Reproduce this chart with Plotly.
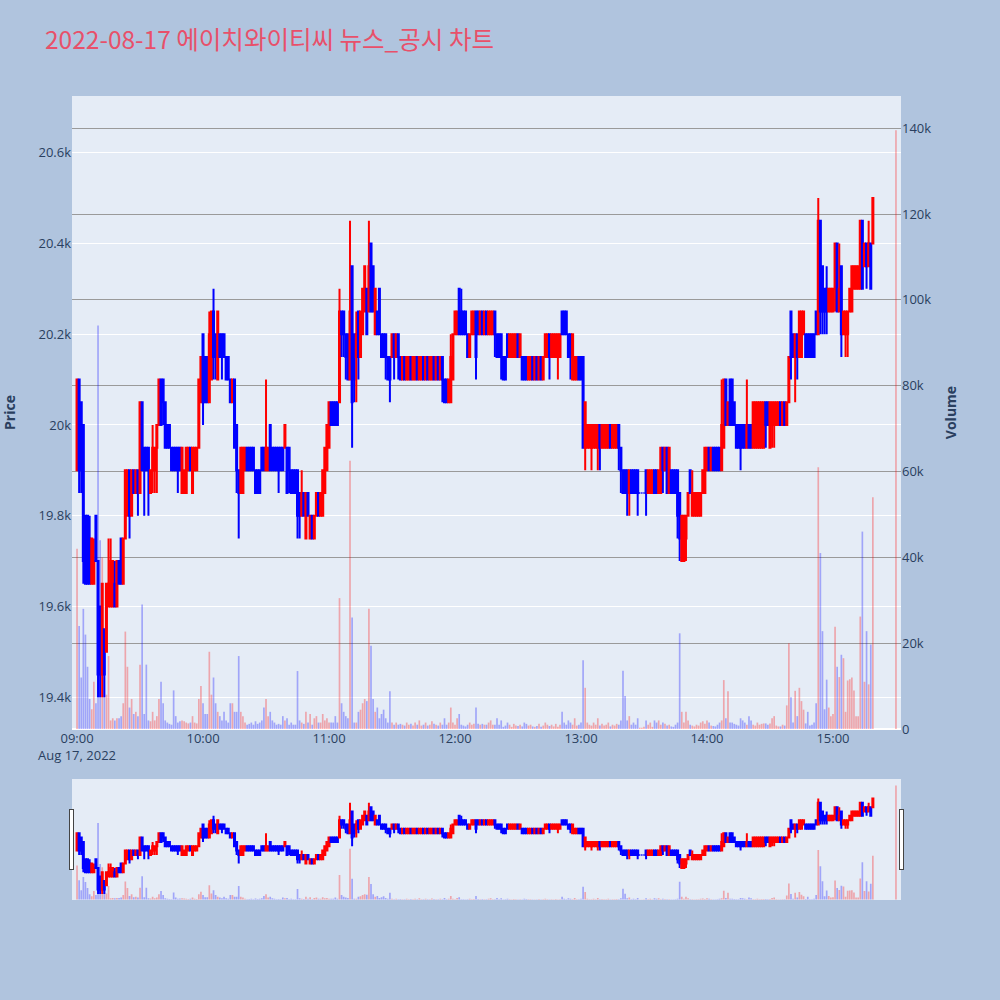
import pandas as pd
import plotly.graph_objects as go
from plotly.subplots import make_subplots

# ---------------- data (1-minute candles, 2022-08-17) ----------------
minutes = list(pd.date_range("2022-08-17 09:00", periods=380, freq="min").strftime("%Y-%m-%d %H:%M"))
closing_auction_time = "2022-08-17 15:30"

opens = [
    19900,20100,20050,20000,19800,19800,19750,19650,19650,19800,
    19700,19600,19450,19550,19500,19600,19600,19600,19650,19600,
    19700,19750,19650,19750,19800,19900,19800,19900,19850,19900,
    19850,20050,19950,19950,19950,19850,19900,19900,19950,20000,
    20100,20100,20050,20000,20000,19950,19950,19950,19950,19950,
    19850,19850,19850,19900,19950,19850,19900,19900,19950,20050,
    20200,20150,20150,20050,20100,20250,20200,20100,20200,20200,
    20200,20150,20150,20100,20050,20100,20000,19900,19850,19850,
    19900,19950,19950,19950,19950,19900,19900,19900,19950,19950,
    19900,19900,20000,19950,19950,19950,19950,19950,19950,19950,
    19950,19950,19900,19900,19900,19900,19850,19800,19850,19750,
    19850,19750,19800,19750,19800,19850,19800,19800,19850,19900,
    19950,20050,20050,20050,20050,20050,20250,20250,20200,20200,
    20100,20350,20200,20150,20250,20150,20200,20250,20300,20250,
    20400,20350,20200,20250,20300,20200,20200,20200,20150,20150,
    20150,20200,20150,20200,20150,20100,20150,20100,20100,20150,
    20100,20100,20150,20100,20100,20150,20100,20150,20100,20100,
    20150,20100,20150,20100,20150,20100,20100,20050,20050,20100,
    20200,20200,20300,20250,20250,20250,20200,20150,20200,20200,
    20250,20250,20200,20250,20200,20250,20200,20200,20200,20250,
    20200,20200,20200,20150,20150,20200,20150,20150,20150,20150,
    20200,20150,20150,20150,20150,20100,20100,20150,20100,20150,
    20100,20150,20100,20150,20150,20200,20150,20150,20150,20150,
    20150,20250,20250,20250,20200,20200,20100,20100,20100,20150,
    20150,20150,19950,19950,19950,19950,19950,19950,19950,20000,
    19950,19950,19950,19950,20000,19950,19950,19950,20000,19950,
    19900,19900,19900,19850,19900,19900,19900,19900,19850,19850,
    19850,19900,19850,19850,19850,19900,19900,19850,19850,19950,
    19900,19950,19850,19900,19900,19900,19900,19850,19700,19700,
    19750,19800,19900,19800,19800,19800,19800,19800,19850,19850,
    19900,19950,19900,19950,19950,19950,19950,19900,19950,20100,
    20000,20100,20100,20050,20000,20000,20000,20000,20000,19950,
    20000,20000,19950,19950,19950,19950,19950,19950,20050,20050,
    19950,20000,20000,20000,20000,20050,20000,20050,20000,20050,
    20250,20200,20150,20200,20150,20150,20200,20200,20200,20200,
    20200,20200,20250,20200,20450,20350,20300,20300,20250,20250,
    20250,20300,20400,20250,20350,20200,20200,20200,20250,20250,
    20300,20300,20300,20300,20450,20350,20400,20350,20400,20400,
]
highs = [
    20100,20100,20050,20000,19800,19800,19800,19750,19750,19800,
    19700,19600,19650,19550,19650,19750,19750,19700,19700,19700,
    19700,19750,19750,19900,19900,19900,19900,19900,19900,19900,
    20050,20050,19950,19950,19950,19900,20000,19950,20000,20100,
    20100,20100,20050,20000,20000,19950,19950,19950,19950,19950,
    19950,19900,19950,19950,19950,19950,19950,19950,20100,20150,
    20200,20150,20150,20250,20250,20300,20200,20250,20200,20200,
    20200,20150,20150,20100,20100,20100,20000,19900,19950,19950,
    19950,19950,19950,19950,19950,19900,19900,19900,19950,19950,
    20100,19950,20000,19950,19950,19950,19950,19950,19950,20000,
    19950,19950,19900,19900,19900,19900,19850,19900,19850,19850,
    19850,19800,19800,19800,19850,19850,19850,19900,19950,20000,
    20050,20050,20050,20050,20050,20300,20250,20250,20200,20200,
    20450,20350,20200,20250,20250,20250,20300,20350,20300,20450,
    20400,20350,20300,20250,20300,20200,20200,20200,20150,20150,
    20200,20200,20200,20200,20150,20150,20150,20150,20150,20150,
    20150,20150,20150,20150,20150,20150,20150,20150,20150,20150,
    20150,20150,20150,20150,20150,20100,20100,20100,20200,20200,
    20250,20250,20300,20300,20250,20250,20200,20200,20250,20250,
    20250,20250,20250,20250,20250,20250,20250,20250,20250,20250,
    20200,20200,20200,20150,20150,20200,20200,20200,20200,20200,
    20200,20200,20150,20150,20150,20150,20150,20150,20150,20150,
    20150,20150,20150,20200,20200,20200,20200,20200,20200,20200,
    20200,20250,20250,20250,20200,20200,20200,20150,20150,20150,
    20150,20150,20050,20000,20000,20000,20000,20000,20000,20000,
    20000,20000,20000,20000,20000,20000,20000,20000,20000,19950,
    19900,19900,19900,19900,19900,19900,19900,19900,19850,19850,
    19850,19900,19900,19900,19900,19900,19900,19900,19950,19950,
    19950,19950,19950,19900,19900,19900,19900,19850,19800,19800,
    19800,19850,19900,19900,19850,19850,19850,19850,19900,19950,
    19950,19950,19950,19950,19950,19950,19950,20100,20100,20100,
    20050,20100,20100,20050,20000,20000,20000,20000,20000,20100,
    20000,20000,20050,20050,20050,20050,20050,20050,20050,20050,
    20050,20050,20050,20050,20050,20050,20050,20050,20050,20150,
    20250,20200,20200,20200,20250,20250,20250,20200,20200,20200,
    20200,20200,20250,20500,20450,20350,20300,20350,20300,20300,
    20300,20400,20400,20400,20350,20250,20250,20250,20300,20350,
    20350,20350,20350,20450,20450,20400,20400,20450,20400,20500,
]
lows = [
    19900,19850,19850,19650,19650,19650,19650,19650,19650,19700,
    19400,19400,19400,19400,19500,19600,19600,19600,19600,19600,
    19650,19650,19650,19750,19800,19750,19800,19850,19850,19800,
    19850,19900,19800,19900,19800,19850,19850,19850,19850,20000,
    20000,20000,19950,19950,19950,19900,19900,19900,19850,19900,
    19850,19850,19850,19900,19900,19850,19900,19900,19950,20050,
    20000,20050,20050,20050,20100,20100,20100,20100,20150,20100,
    20150,20100,20100,20050,20050,19950,19850,19750,19850,19850,
    19900,19900,19900,19900,19900,19850,19850,19850,19900,19900,
    19900,19900,19900,19900,19900,19900,19850,19900,19900,19950,
    19850,19850,19850,19850,19850,19750,19750,19800,19800,19750,
    19800,19750,19750,19750,19800,19800,19800,19800,19850,19900,
    19950,20000,20000,20000,20000,20050,20150,20150,20100,20100,
    20100,19950,20050,20050,20100,20150,20200,20250,20200,20250,
    20250,20250,20200,20200,20200,20150,20150,20100,20100,20050,
    20150,20100,20150,20100,20100,20100,20100,20100,20100,20100,
    20100,20100,20100,20100,20100,20100,20100,20100,20100,20100,
    20100,20100,20100,20100,20050,20050,20050,20050,20050,20100,
    20200,20200,20200,20200,20200,20200,20150,20150,20200,20200,
    20100,20200,20200,20200,20200,20200,20200,20200,20200,20150,
    20150,20150,20100,20100,20100,20150,20150,20150,20150,20150,
    20150,20150,20100,20100,20100,20100,20100,20100,20100,20100,
    20100,20100,20100,20150,20150,20100,20150,20150,20150,20100,
    20150,20200,20200,20200,20150,20100,20100,20100,20100,20100,
    20100,19950,19900,19950,19950,19900,19950,19950,19900,19900,
    19950,19950,19950,19950,19950,19950,19950,19950,19900,19850,
    19850,19850,19800,19800,19850,19850,19850,19800,19850,19850,
    19850,19800,19850,19850,19850,19850,19850,19850,19850,19850,
    19900,19850,19850,19850,19850,19850,19750,19700,19700,19700,
    19700,19800,19850,19800,19800,19800,19800,19800,19850,19850,
    19900,19900,19900,19900,19900,19900,19900,19900,19950,20000,
    20000,20000,20000,20000,19950,19950,19900,19950,19950,19950,
    19950,19950,19950,19950,19950,19950,19950,19950,19950,20000,
    19950,19950,19950,20000,20000,20000,20000,20000,20000,20050,
    20100,20150,20050,20100,20150,20150,20200,20150,20150,20150,
    20150,20150,20200,20200,20200,20200,20200,20200,20250,20250,
    20250,20250,20250,20250,20150,20200,20150,20150,20250,20250,
    20300,20300,20300,20300,20300,20350,20300,20350,20300,20400,
]
closes = [
    20100,19900,19900,19700,19650,19650,19650,19750,19700,19700,
    19450,19450,19650,19450,19650,19650,19700,19700,19600,19700,
    19650,19650,19750,19900,19900,19800,19900,19850,19900,19850,
    20050,19900,19900,19900,19900,19900,19950,19950,20000,20100,
    20000,20050,19950,19950,19950,19900,19900,19900,19900,19900,
    19950,19900,19950,19950,19900,19950,19950,19950,20100,20150,
    20050,20050,20050,20200,20250,20150,20150,20250,20150,20150,
    20150,20100,20100,20050,20100,19950,19900,19850,19950,19950,
    19950,19900,19900,19900,19900,19850,19850,19850,19900,19900,
    19950,19950,19900,19900,19900,19900,19900,19900,19900,20000,
    19850,19900,19850,19850,19850,19800,19800,19850,19800,19850,
    19800,19800,19750,19800,19850,19800,19850,19900,19950,20000,
    20050,20000,20000,20000,20000,20250,20200,20200,20150,20100,
    20250,20050,20100,20200,20150,20250,20300,20350,20200,20350,
    20250,20250,20300,20200,20200,20150,20150,20150,20100,20100,
    20200,20150,20200,20150,20100,20150,20100,20150,20150,20100,
    20150,20150,20100,20150,20150,20100,20150,20100,20150,20150,
    20100,20150,20100,20150,20100,20050,20050,20100,20150,20200,
    20250,20250,20200,20200,20200,20200,20150,20200,20250,20250,
    20150,20200,20250,20200,20250,20200,20250,20250,20250,20200,
    20150,20150,20150,20100,20100,20150,20200,20200,20200,20200,
    20150,20200,20100,20100,20100,20150,20150,20100,20150,20100,
    20150,20100,20150,20200,20200,20150,20200,20200,20200,20200,
    20200,20200,20200,20200,20150,20150,20200,20150,20150,20100,
    20100,19950,20050,20000,20000,20000,20000,20000,20000,19950,
    20000,20000,20000,20000,19950,20000,20000,20000,19950,19900,
    19850,19850,19850,19900,19850,19850,19850,19850,19850,19850,
    19850,19850,19900,19900,19900,19850,19850,19900,19950,19900,
    19950,19850,19950,19850,19850,19850,19800,19750,19800,19800,
    19800,19850,19850,19850,19850,19850,19850,19850,19900,19950,
    19950,19900,19950,19900,19900,19900,19900,20000,20100,20000,
    20050,20000,20000,20000,19950,19950,19950,19950,19950,20000,
    19950,19950,20050,20050,20050,20050,20050,20050,20000,20000,
    20050,20050,20050,20050,20050,20000,20050,20000,20050,20150,
    20150,20150,20200,20150,20250,20250,20250,20150,20150,20150,
    20150,20150,20200,20450,20250,20250,20250,20250,20300,20300,
    20300,20400,20250,20300,20200,20250,20250,20250,20300,20350,
    20350,20350,20350,20450,20300,20400,20350,20400,20300,20500,
]
volumes = [
    42000,24000,12000,28000,22000,14500,7000,4600,11000,6000,
    94000,44000,40000,12000,8000,17000,2000,2500,2000,2500,
    2500,3000,6000,22700,14500,5000,7000,3500,4000,3000,
    15000,29000,3500,15000,2000,1800,4000,2000,3000,7000,
    11000,6000,2000,1500,1200,1000,9000,3000,1500,1800,
    2000,1800,1500,1300,1500,3000,1500,1300,7000,10000,
    6000,3500,3500,18000,8000,12000,6000,4000,3000,2000,
    4000,2000,1500,6000,6000,4000,4000,17000,4000,3000,
    1500,1000,1200,1500,1000,1800,1200,1500,2000,5000,
    7000,3000,4000,2000,1500,1000,1200,1000,3000,2000,
    2500,1000,1500,1000,1000,13500,2000,1500,1200,4000,
    1500,3500,1000,2500,3000,1500,1500,3500,2000,2500,
    1500,1500,1500,3000,1500,30500,6000,4000,3000,2500,
    62500,26000,1500,1500,4000,4500,6000,7000,6500,28000,
    19400,7000,4000,5000,2500,3500,4500,2500,1500,8800,
    1500,1000,1500,1000,1200,1000,800,1500,1000,1200,
    800,1500,1000,2000,800,1000,1500,800,1000,1800,
    1200,1000,800,1500,1000,2500,1000,1500,5000,1500,
    1000,2500,3500,1000,800,600,1000,1500,1000,1200,
    5000,1200,1000,1200,1000,1000,1500,2000,1000,1000,
    2500,1000,2000,500,800,1500,1000,500,1200,800,
    700,1000,600,1500,1200,800,1000,600,500,700,
    1200,500,800,1500,1000,700,1000,600,1200,500,
    1000,4000,1500,1000,2000,1500,1000,2500,800,1000,
    1500,16000,9600,1500,1000,800,1500,1000,2500,800,
    1200,800,1000,1500,600,1000,800,1200,1000,2000,
    13600,7700,2000,3000,1000,1500,1000,2500,300,300,
    500,2000,1000,1500,500,2000,1500,2000,1000,1500,
    1200,800,1000,600,500,1000,1500,22300,4000,1500,
    4000,2000,1000,800,600,1000,800,1500,1800,1200,
    2000,1500,800,700,600,1000,1500,2000,11400,2500,
    8800,1500,1500,1200,1000,800,2500,2000,1500,1000,
    3000,2000,1000,800,1500,1000,1200,1300,1300,1000,
    1300,2500,3000,800,600,600,1000,800,5500,20000,
    7400,1500,8900,3000,9600,6500,4500,1300,4000,800,
    1000,1500,6000,61000,41000,22800,4600,11500,5000,3000,
    3500,23800,14500,12100,17300,16500,4000,11300,11600,12000,
    9000,3000,3000,26200,46000,11000,22800,10400,19700,54000,
]
closing_auction_volume = 139500

title_text = "2022-08-17 에이치와이티씨 뉴스_공시 차트"

# ---------------- figure ----------------
UP = "#FF0000"
DOWN = "#0000FF"
UP_VOL = "rgba(255,0,0,0.3)"
DOWN_VOL = "rgba(0,0,255,0.3)"

vol_x = minutes + [closing_auction_time]
vol_y = volumes + [closing_auction_volume]
vol_colors = [UP_VOL if c >= o else DOWN_VOL for o, c in zip(opens, closes)] + [UP_VOL]

fig = make_subplots(specs=[[{"secondary_y": True}]])

fig.add_trace(
    go.Candlestick(
        x=minutes, open=opens, high=highs, low=lows, close=closes,
        increasing=dict(line=dict(color=UP), fillcolor=UP),
        decreasing=dict(line=dict(color=DOWN), fillcolor=DOWN),
        showlegend=False, name="Price",
    ),
    secondary_y=False,
)
fig.add_trace(
    go.Bar(
        x=vol_x, y=vol_y, marker=dict(color=vol_colors, line=dict(width=0)),
        showlegend=False, name="Volume",
    ),
    secondary_y=True,
)

fig.update_layout(
    width=1000, height=1000,
    paper_bgcolor="#B0C4DE",
    plot_bgcolor="#E5ECF6",
    margin=dict(l=72, r=99, t=96, b=100),
    title=dict(text=title_text, x=0.045, xanchor="left", y=0.96, yanchor="middle",
               font=dict(family="Noto Sans CJK KR", size=24.5, color="#E8506A")),
    showlegend=False,
    bargap=0.2,
)
x_range = ["2022-08-17 08:57:36", "2022-08-17 15:32:24"]
fig.update_xaxes(
    domain=[0, 1],
    range=x_range,
    rangeslider=dict(visible=True, thickness=0.15, bgcolor="#E5ECF6", range=x_range),
    showgrid=False,
    tickfont=dict(size=13),
)
fig.update_yaxes(
    title=dict(text="<b>Price</b>", font=dict(size=14), standoff=22),
    range=[19330, 20725], gridcolor="white", secondary_y=False,
    tickfont=dict(size=13), automargin=False,
)
fig.update_yaxes(
    title=dict(text="<b>Volume</b>", font=dict(size=14)),
    range=[0, 147500], gridcolor="#9a9a9a", showgrid=True, secondary_y=True,
    tickfont=dict(size=13), automargin=False,
)

fig.write_html("out.html", config={"displayModeBar": False},
               post_script="document.body.style.margin='0';")
